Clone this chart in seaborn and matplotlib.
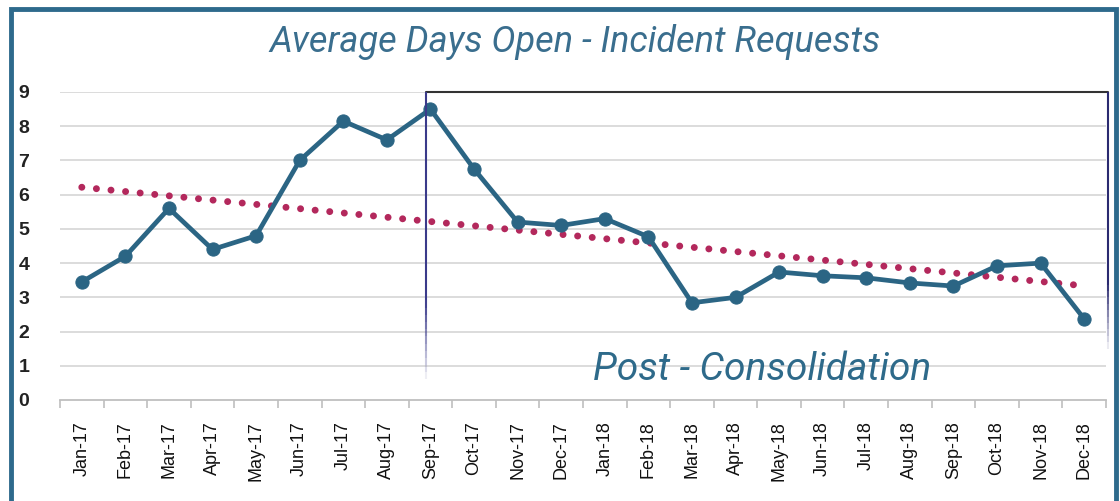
import numpy as np
import pandas as pd
import matplotlib
matplotlib.use("Agg")
import matplotlib.pyplot as plt
import seaborn as sns
from matplotlib.patches import Rectangle
from matplotlib import font_manager

months = ["Jan-17", "Feb-17", "Mar-17", "Apr-17", "May-17", "Jun-17", "Jul-17", "Aug-17",
          "Sep-17", "Oct-17", "Nov-17", "Dec-17", "Jan-18", "Feb-18", "Mar-18", "Apr-18",
          "May-18", "Jun-18", "Jul-18", "Aug-18", "Sep-18", "Oct-18", "Nov-18", "Dec-18"]
avg_days = [3.45, 4.2, 5.6, 4.4, 4.8, 7.0, 8.15, 7.6,
            8.5, 6.75, 5.2, 5.1, 5.3, 4.77, 2.84, 3.0,
            3.74, 3.63, 3.57, 3.42, 3.33, 3.92, 4.0, 2.37]
y_ticks = [0, 1, 2, 3, 4, 5, 6, 7, 8, 9]
title = "Average Days Open - Incident Requests"
box_label = "Post - Consolidation"
box_start = "Sep-17"

sns.set_theme(style="white")
plt.rcParams["font.family"] = ["Liberation Sans", "DejaVu Sans"]

names = {f.name for f in font_manager.fontManager.ttflist}
narrow = "Liberation Sans Narrow" if "Liberation Sans Narrow" in names else "Liberation Sans"
xfs = 15 if narrow == "Liberation Sans Narrow" else 13

blue = "#2b6584"
trend_col = "#b3285c"

df = pd.DataFrame({"month": months, "days": avg_days, "idx": np.arange(len(months))})

fig = plt.figure(figsize=(11.2, 5.01), dpi=100)
ax = fig.add_axes([60/1120, 1-400/501, (1106-60)/1120, (400-92)/501])

for v in y_ticks[1:]:
    ax.axhline(v, color="#d9d9d9", lw=1.3, zorder=0)

sns.regplot(data=df, x="idx", y="days", ci=None, scatter=False, ax=ax,
            line_kws=dict(color=trend_col, lw=5.0, dashes=(0.01, 2.1),
                          dash_capstyle="round", zorder=2))
sns.lineplot(data=df, x="idx", y="days", ax=ax, color=blue, lw=3.4, marker="o",
             markersize=9.5, markeredgecolor=blue, zorder=3)

ax.set_xlim(-0.5, len(months) - 0.5)
ax.set_ylim(0, 9)
ax.set_xticks(df["idx"])
ax.set_xticklabels(months, rotation=90, fontsize=xfs, color="#111111", family=[narrow, "DejaVu Sans"])
ax.set_xticks(np.arange(len(months) + 1) - 0.5, minor=True)
ax.tick_params(axis="x", which="major", length=0, pad=15)
ax.tick_params(axis="x", which="minor", length=6, width=1.2, color="#bfbfbf", bottom=True)
ax.set_yticks(y_ticks)
ax.set_yticklabels([str(v) for v in y_ticks], fontsize=14, fontweight="bold", color="#222222")
ax.tick_params(axis="y", length=0, pad=30)
for lab in ax.get_yticklabels():
    lab.set_horizontalalignment("left")
ax.set_xlabel("")
ax.set_ylabel("")
for s in ["top", "right", "left"]:
    ax.spines[s].set_visible(False)
ax.spines["bottom"].set_color("#bfbfbf")
ax.spines["bottom"].set_linewidth(1.3)

# Post-consolidation box
x0 = months.index(box_start) - 0.1
x1 = len(months) - 0.45
ax.plot([x0, x1], [9, 9], color="#333333", lw=1.5, zorder=4, clip_on=False)
n = 40
ys = np.linspace(9, 0.6, n + 1)
for i in range(n):
    a = 1.0 if ys[i] > 3 else max(0.0, (ys[i] - 0.6) / 2.4)
    ax.plot([x0, x0], [ys[i], ys[i+1]], color="#3a3a8a", lw=1.5, alpha=a, zorder=4,
            solid_capstyle="butt")
ys2 = np.linspace(9, 1.5, n + 1)
for i in range(n):
    a = 1.0 if ys2[i] > 3.5 else max(0.0, (ys2[i] - 1.5) / 2.0)
    ax.plot([x1, x1], [ys2[i], ys2[i+1]], color="#2a2a70", lw=1.5, alpha=a, zorder=4,
            solid_capstyle="butt", clip_on=False)
fig.text(762/1120, 1-370/501, box_label, fontsize=28, style="italic", color="#2e6a8a",
         ha="center", va="center", family=["Roboto", "DejaVu Sans"], zorder=5)

fig.text(575/1120, 1-42/501, title, fontsize=26, style="italic", color="#3a6e8e",
         ha="center", va="center", family=["Roboto", "DejaVu Sans"])

fig.patches.append(Rectangle((11/1120, -0.05), (1116-11)/1120, 1.05 - 9/501,
                             transform=fig.transFigure, fill=False,
                             edgecolor="#2e6a8c", lw=3.5, zorder=10))

fig.savefig("out.png", dpi=100)
